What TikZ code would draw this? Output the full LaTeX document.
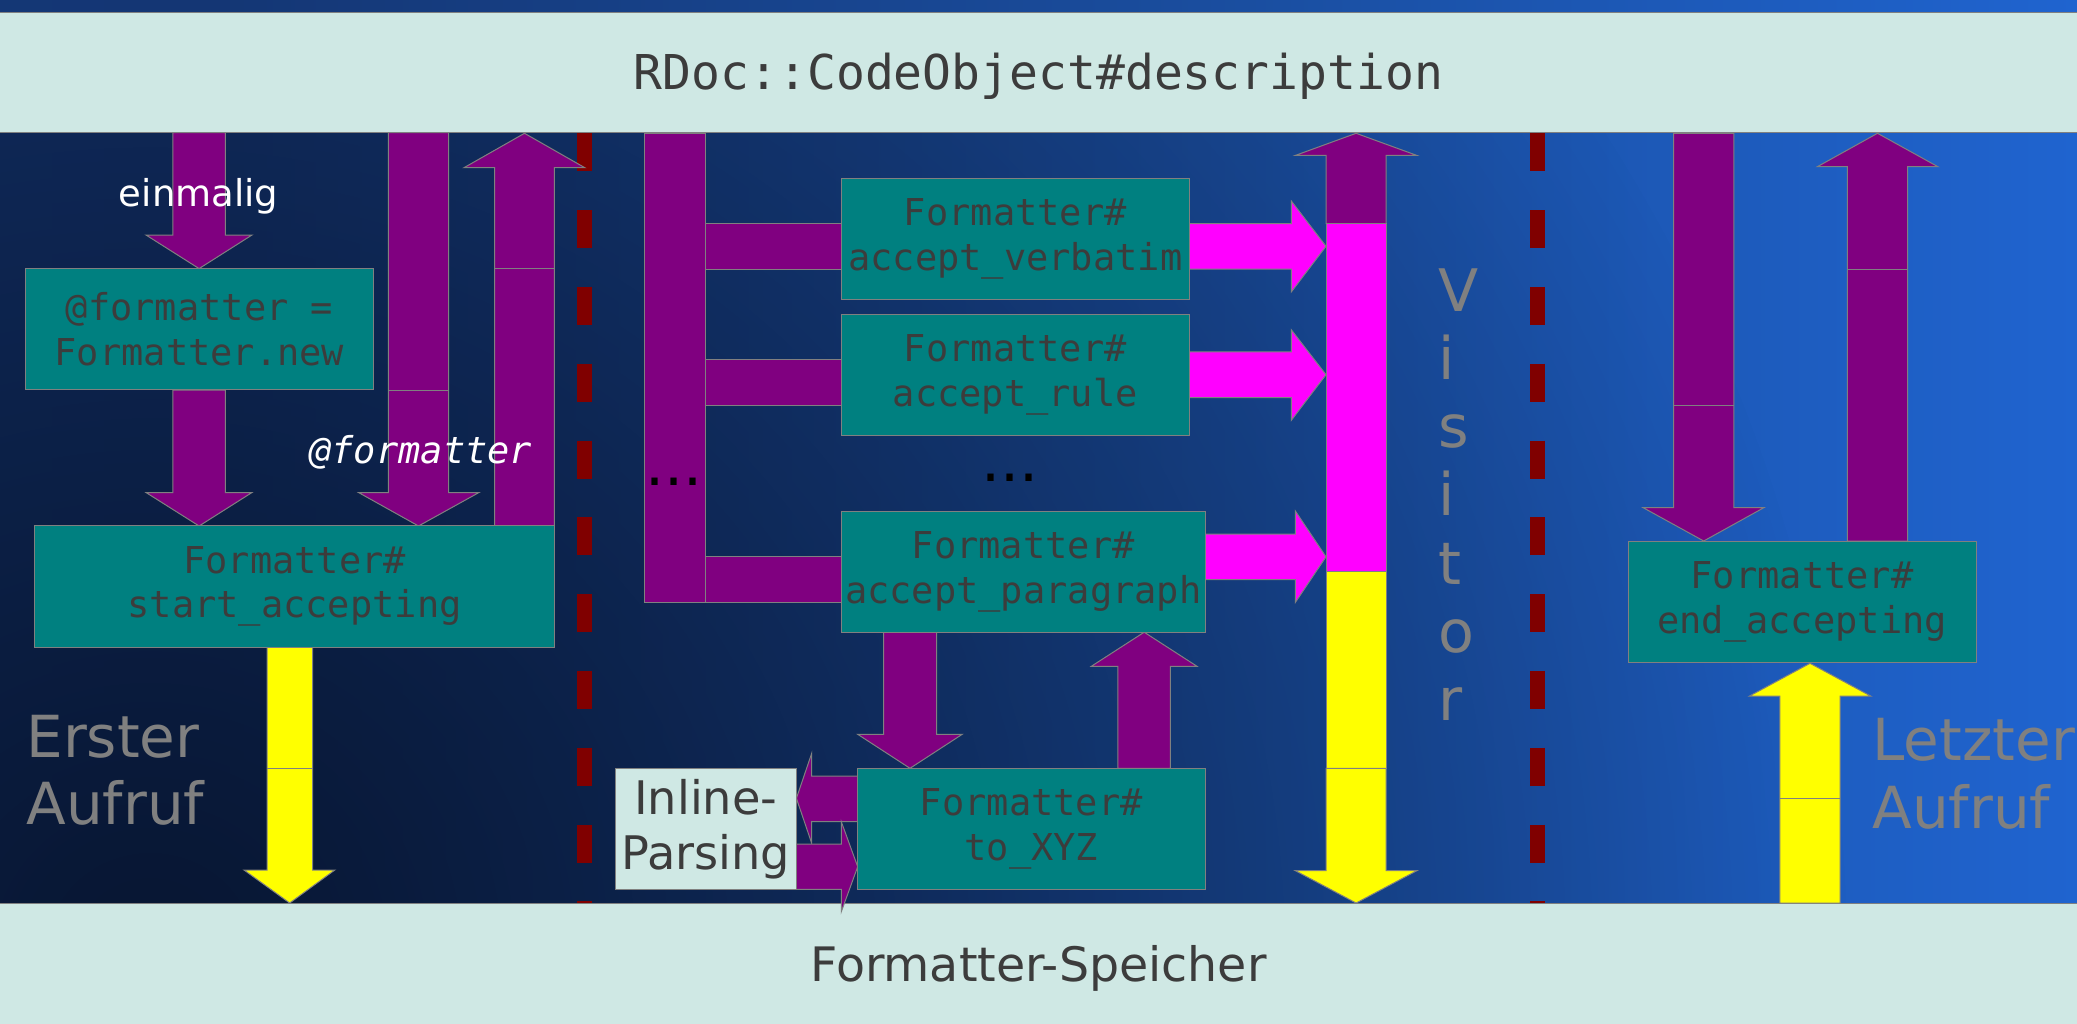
\documentclass[tikz,border=0pt]{standalone}
\usepackage{fontspec}
\setmainfont{DejaVu Sans}
\setmonofont{DejaVu Sans Mono}[ItalicFont={DejaVu Sans Mono Oblique},BoldFont={DejaVu Sans Mono Bold}]
\usetikzlibrary{fadings}

\definecolor{bandlight}{RGB}{207,232,228}
\definecolor{edgegray}{RGB}{128,128,128}
\definecolor{boxteal}{RGB}{0,128,128}
\definecolor{boxtext}{RGB}{60,60,60}
\definecolor{arrowpurple}{RGB}{128,0,128}
\definecolor{arrowmagenta}{RGB}{255,0,255}
\definecolor{arrowyellow}{RGB}{255,255,0}
\definecolor{lanered}{RGB}{128,0,0}
\definecolor{bgA}{RGB}{22,58,122}
\definecolor{bgB}{RGB}{20,54,116}
\definecolor{bgC}{RGB}{26,78,160}
\definecolor{bgD}{RGB}{32,102,212}
\definecolor{bgE}{RGB}{66,128,218}
\definecolor{bgdark}{RGB}{8,22,50}

\pgfdeclarehorizontalshading{bgshade}{100bp}{color(0bp)=(bgA); color(30bp)=(bgB); color(55bp)=(bgC); color(77bp)=(bgD); color(100bp)=(bgE)}
\tikzfading[name=fade dark, inner color=transparent!0, outer color=transparent!100]

\tikzset{every picture/.style={line width=0.75pt}}
\tikzset{
  box/.style={draw=edgegray, fill=boxteal, text=boxtext, minimum width=261pt, minimum height=91pt, inner sep=0pt, align=center, font=\fontsize{27.75}{33.4}\selectfont\ttfamily},
  inlinebox/.style={draw=edgegray, fill=bandlight, text=boxtext, minimum width=135.8pt, minimum height=90.75pt, inner sep=0pt, align=center, font=\fontsize{34.7}{41.25}\selectfont},
  band/.style={draw=edgegray, fill=bandlight},
  parrow/.style={draw=edgegray, fill=arrowpurple},
  marrow/.style={draw=edgegray, fill=arrowmagenta},
  yarrow/.style={draw=edgegray, fill=arrowyellow},
  seam/.style={draw=edgegray},
  redash/.style={draw=lanered, line width=11.25pt, dash pattern=on 28.5pt off 29.1pt},
  bigtext/.style={text=edgegray, align=left, inner sep=0pt, font=\fontsize{43.5}{50.7}\selectfont},
  whitetext/.style={text=white, inner sep=0pt, font=\fontsize{27.75}{33}\selectfont},
  dots/.style={text=black, inner sep=0pt, font=\fontsize{45}{54}\selectfont}
}

\begin{document}
\begin{tikzpicture}[x=0.75pt,y=0.75pt,yscale=-1,xscale=1]
	\useasboundingbox (0,0) rectangle (2077,1024);

	%Background
	\shade[shading=bgshade] (0,0) rectangle (2077,1024);
	\begin{scope}
	\clip (0,132.5) rectangle (2077,903);
	\fill[bgdark, path fading=fade dark] (150,950) ellipse [x radius=1700, y radius=1600];
	\end{scope}
	%Bands
	\draw[band] (-2,12.4) rectangle (2079,132.5);
	\draw[band] (-2,903) rectangle (2079,1030);
	%Dashed separators
	\draw[redash] (584.7,133.3) -- (584.7,903);
	\draw[redash] (1537.5,133.3) -- (1537.5,903);

	%Shape: Arrow einmalig
	\draw[parrow] (172.8,132.5) -- (225.4,132.5) -- (225.4,235) -- (252,235) -- (199.1,268.6) -- (146,235) -- (172.8,235) -- cycle ;
	%Shape: Arrow new to start
	\draw[parrow] (172.8,390) -- (225.4,390) -- (225.4,492.5) -- (252,492.5) -- (199.1,526) -- (146,492.5) -- (172.8,492.5) -- cycle ;
	%Shape: Arrow @formatter down
	\draw[parrow] (388.4,132.5) -- (448.6,132.5) -- (448.6,492.5) -- (479,492.5) -- (418.5,526) -- (358.5,492.5) -- (388.4,492.5) -- cycle ;
	\draw[seam] (388.4,390) -- (448.6,390) ;
	%Shape: Arrow start up
	\draw[parrow] (494.6,526) -- (554.4,526) -- (554.4,167.7) -- (584.8,167.7) -- (524.5,133.3) -- (464,167.7) -- (494.6,167.7) -- cycle ;
	\draw[seam] (494.6,268.6) -- (554.4,268.6) ;
	%Shape: Arrow start down (yellow)
	\draw[yarrow] (267,647) -- (312.5,647) -- (312.5,870) -- (334.8,870) -- (289.7,903) -- (244,870) -- (267,870) -- cycle ;
	\draw[seam] (267,768) -- (312.5,768) ;

	%Shape: Bar and branches
	\draw[parrow] (644.9,133.3) rectangle (705.6,602.3) ;
	\draw[parrow] (705.6,223.5) rectangle (841.3,269.1) ;
	\draw[parrow] (705.6,359.6) rectangle (841.3,405.2) ;
	\draw[parrow] (705.6,556.8) rectangle (841.3,602.3) ;
	%Shape: Magenta arrows
	\draw[marrow] (1189.3,223.5) -- (1291.3,223.5) -- (1291.3,201) -- (1326,246.3) -- (1291.3,291.9) -- (1291.3,269.1) -- (1189.3,269.1) -- cycle ;
	\draw[marrow] (1189.3,351.9) -- (1291.3,351.9) -- (1291.3,329.8) -- (1326,374.7) -- (1291.3,420.3) -- (1291.3,397.5) -- (1189.3,397.5) -- cycle ;
	\draw[marrow] (1205.1,534) -- (1295.4,534) -- (1295.4,511.1) -- (1326,556.8) -- (1295.4,602.3) -- (1295.4,579.5) -- (1205.1,579.5) -- cycle ;
	%Shape: Visitor bar
	\draw[parrow] (1326,223.5) -- (1326,155.4) -- (1295.4,155.4) -- (1356.1,133.3) -- (1416.8,155.4) -- (1386.2,155.4) -- (1386.2,223.5) -- cycle ;
	\draw[marrow] (1326,223.5) rectangle (1386.2,571.8) ;
	\draw[yarrow] (1326,571.8) rectangle (1386.2,768.3) ;
	\draw[yarrow] (1326,768.3) -- (1386.2,768.3) -- (1386.2,870.7) -- (1416.8,870.7) -- (1356.1,903) -- (1295.4,870.7) -- (1326,870.7) -- cycle ;
	%Shape: Arrows paragraph / to_XYZ
	\draw[parrow] (883.7,632.2) -- (936.7,632.2) -- (936.7,734.3) -- (962.2,734.3) -- (910,768.3) -- (857.7,734.3) -- (883.7,734.3) -- cycle ;
	\draw[parrow] (1117.9,768.3) -- (1170.4,768.3) -- (1170.4,666.3) -- (1197,666.3) -- (1144.2,632.2) -- (1091.3,666.3) -- (1117.9,666.3) -- cycle ;
	%Shape: Arrows inline parsing
	\draw[parrow] (857.7,776) -- (811.7,776) -- (811.7,753.3) -- (796.4,798.3) -- (811.7,843.3) -- (811.7,821.7) -- (857.7,821.7) -- cycle ;
	\draw[parrow] (796.4,844) -- (841.3,844) -- (841.3,821.7) -- (857.7,866.7) -- (841.3,911.7) -- (841.3,889.3) -- (796.4,889.3) -- cycle ;

	%Shape: Arrows right part
	\draw[parrow] (1673.6,133.3) -- (1733.9,133.3) -- (1733.9,507.6) -- (1764,507.6) -- (1703.7,541) -- (1643,507.6) -- (1673.6,507.6) -- cycle ;
	\draw[seam] (1673.6,405.2) -- (1733.9,405.2) ;
	\draw[parrow] (1847.4,541) -- (1907.7,541) -- (1907.7,166.7) -- (1937.9,166.7) -- (1877.5,133.3) -- (1817.3,166.7) -- (1847.4,166.7) -- cycle ;
	\draw[seam] (1847.4,269.4) -- (1907.7,269.4) ;
	\draw[yarrow] (1779.8,903) -- (1840,903) -- (1840,696) -- (1870.6,696) -- (1810,663.3) -- (1749.6,696) -- (1779.8,696) -- cycle ;
	\draw[seam] (1779.8,798.3) -- (1840,798.3) ;

	% Text Node
	\node[box] (fnew) at (199.5,329.3) {@formatter =\\Formatter.new};
	% Text Node
	\node[box, minimum width=389.7pt] (fstart) at (294.6,586.5) {Formatter\#\\start\_accepting};
	% Text Node
	\node[box] (fverb) at (1015.3,238.75) {Formatter\#\\accept\_verbatim};
	% Text Node
	\node[box] (frule) at (1015.3,374.85) {Formatter\#\\accept\_rule};
	% Text Node
	\node[box, minimum width=272.9pt] (fpara) at (1023.2,571.85) {Formatter\#\\accept\_paragraph};
	% Text Node
	\node[box] (fxyz) at (1031.35,828.8) {Formatter\#\\to\_XYZ};
	% Text Node
	\node[box] (fend) at (1802.05,601.85) {Formatter\#\\end\_accepting};
	% Text Node
	\node[inlinebox] (inl) at (705.85,828.8) {Inline-\\Parsing};

	% Text Node
	\node[anchor=base, text=boxtext, font=\fontsize{36}{43}\selectfont\ttfamily] (title) at (1038.5,89.3) {RDoc::CodeObject\#description};
	% Text Node
	\node[anchor=base, text=boxtext, font=\fontsize{35.6}{42}\selectfont] (store) at (1038.5,981.7) {Formatter-Speicher};
	% Text Node
	\node[whitetext, anchor=base] (once) at (198.6,206) {einmalig};
	% Text Node
	\node[whitetext, anchor=base, font=\fontsize{27.75}{33}\selectfont\ttfamily\itshape] (fvar) at (420.8,463.2) {@formatter};
	% Text Node
	\node[dots, anchor=base] (dotsl) at (674,485) {...};
	% Text Node
	\node[dots, anchor=base] (dotsm) at (1010,481) {...};
	% Text Node
	\node[bigtext, anchor=north west] (first) at (26,714.4) {Erster\\Aufruf};
	% Text Node
	\node[bigtext, anchor=north west] (last) at (1872,717.7) {Letzter\\Aufruf};
	% Text Node
	\node[bigtext, anchor=north west, font=\fontsize{44}{51.2}\selectfont] (vis) at (1437.5,267.8) {V\\i\\s\\i\\t\\o\\r};

\end{tikzpicture}
\end{document}
